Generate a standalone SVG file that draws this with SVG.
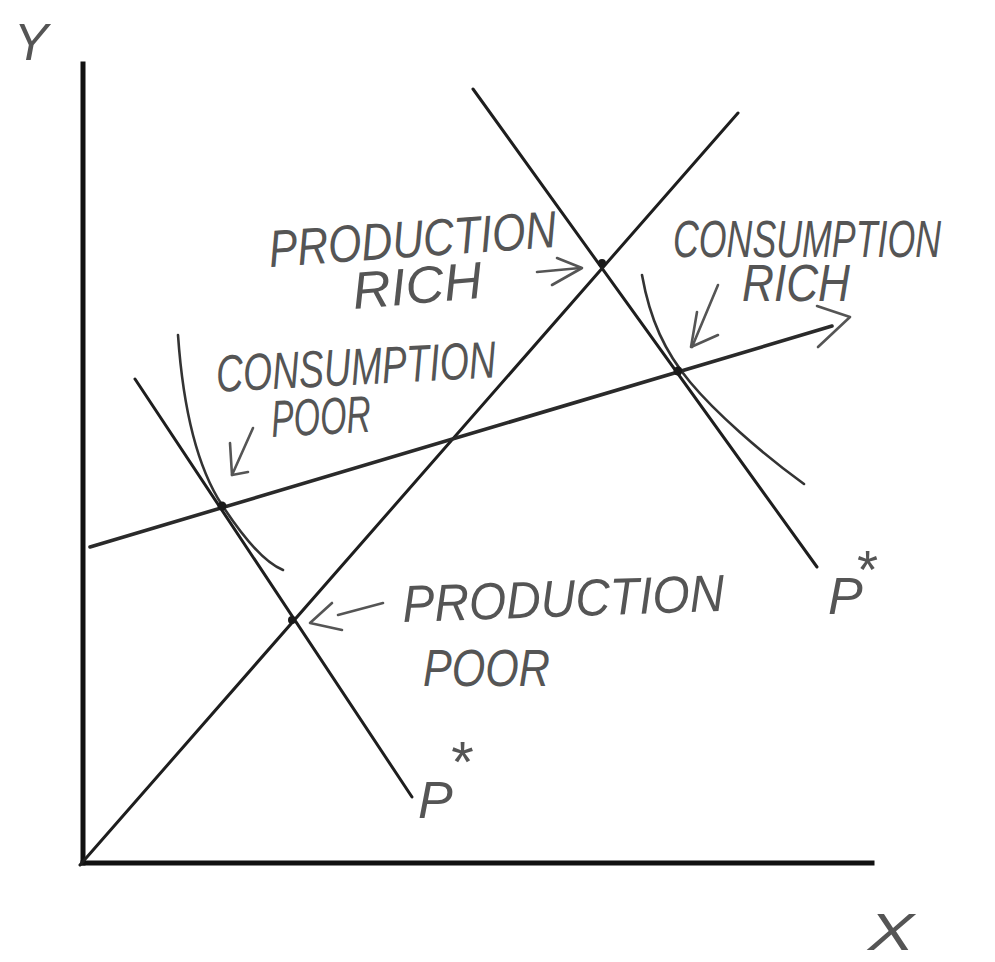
<svg xmlns="http://www.w3.org/2000/svg" width="995" height="962" viewBox="0 0 995 962">
<style>
.axis{stroke:#111;stroke-width:5;fill:none;stroke-linecap:square}
.ln{stroke:#1e1e1e;stroke-width:3;fill:none;stroke-linecap:round}
.bud{stroke:#2a2a2a;stroke-width:3.6;fill:none;stroke-linecap:round}
.crv{stroke:#333;stroke-width:2.6;fill:none;stroke-linecap:round}
.arr{stroke:#555;stroke-width:2.6;fill:none;stroke-linecap:round;stroke-linejoin:round}
.lbl{font-family:"Liberation Sans","DejaVu Sans",sans-serif;font-style:italic;fill:#555;font-size:52px}
.pt{fill:#1a1a1a}
</style>
<rect width="995" height="962" fill="#fff"/>

<g id="axes">
<line class="axis" x1="83" y1="64" x2="83" y2="863"/>
<line class="axis" x1="83" y1="863" x2="872" y2="863"/>
<text class="lbl" x="14" y="60" font-size="70" textLength="34" lengthAdjust="spacingAndGlyphs">Y</text>
<text class="lbl" x="868" y="950" font-size="58" textLength="46" lengthAdjust="spacingAndGlyphs">X</text>
</g>

<g id="connectors">
<path id="ray" class="ln" d="M80 865 L738 113"/>
<path id="price-upper" class="ln" d="M473 89 L817 567"/>
<path id="price-lower" class="ln" d="M135 379 L412 797"/>
<path id="budget" class="bud" d="M90 547 L832 326"/>
<path class="arr" d="M817 306 L850 317 L818 347"/>
<path id="ic-poor" class="crv" d="M178 335 Q186 450 222 505 T283 570"/>
<path id="ic-rich" class="crv" d="M642 275 C650 320 665 352 690 382 S760 452 804 484"/>
</g>

<g id="points">
<circle class="pt" cx="602" cy="263" r="4"/>
<circle class="pt" cx="678" cy="371" r="4.5"/>
<circle class="pt" cx="222" cy="506" r="4.5"/>
<circle class="pt" cx="292" cy="620" r="4"/>
</g>

<g id="production-rich">
<text class="lbl" x="270" y="267" textLength="288" lengthAdjust="spacingAndGlyphs" transform="rotate(-4 270 267)">PRODUCTION</text>
<text class="lbl" x="354" y="309" textLength="130" lengthAdjust="spacingAndGlyphs" transform="rotate(-5 354 309)">RICH</text>
<path class="arr" d="M537 272 L580 268"/>
<path class="arr" d="M557 258 L582 268 L552 285"/>
</g>

<g id="consumption-rich">
<text class="lbl" x="673" y="257" font-size="44" textLength="268" lengthAdjust="spacingAndGlyphs">CONSUMPTION</text>
<text class="lbl" x="742" y="301" font-size="46" textLength="108" lengthAdjust="spacingAndGlyphs">RICH</text>
<path class="arr" d="M718 285 L692 347"/>
<path class="arr" d="M697 312 L691 347 L718 335"/>
</g>

<g id="consumption-poor">
<text class="lbl" x="217" y="392" textLength="280" lengthAdjust="spacingAndGlyphs" transform="rotate(-3 217 392)">CONSUMPTION</text>
<text class="lbl" x="272" y="437" textLength="100" lengthAdjust="spacingAndGlyphs" transform="rotate(-3 272 437)">POOR</text>
<path class="arr" d="M253 428 L232 475"/>
<path class="arr" d="M230 443 L232 475 L248 472"/>
</g>

<g id="production-poor">
<text class="lbl" x="403" y="622" textLength="322" lengthAdjust="spacingAndGlyphs" transform="rotate(-2 403 622)">PRODUCTION</text>
<text class="lbl" x="423" y="686" textLength="127" lengthAdjust="spacingAndGlyphs">POOR</text>
<path class="arr" d="M383 603 L338 615"/>
<path class="arr" d="M332 603 L310 623 L342 630"/>
</g>

<g id="price-label-lower">
<text class="lbl" x="418" y="818" font-size="78">P<tspan font-size="58" dy="-36" dx="-4">*</tspan></text>
</g>

<g id="price-label-upper">
<text class="lbl" x="828" y="614" font-size="74">P<tspan font-size="54" dy="-26" dx="-8">*</tspan></text>
</g>
</svg>
